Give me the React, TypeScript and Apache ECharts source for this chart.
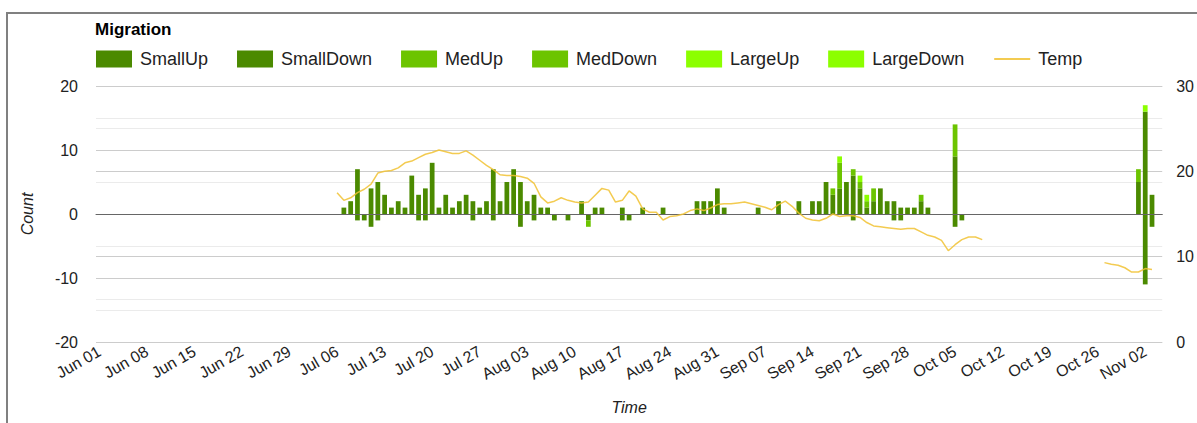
import React, { useEffect, useRef } from "react";
import * as echarts from "echarts";

// Daily categories Jun 01 .. Nov 04
const MONTHS = ["Jun", "Jul", "Aug", "Sep", "Oct", "Nov"];
const MONTH_LENGTHS = [30, 31, 31, 30, 31, 4];
const days: string[] = [];
MONTHS.forEach((m, i) => {
  for (let d = 1; d <= MONTH_LENGTHS[i]; d++) days.push(`${m} ${String(d).padStart(2, "0")}`);
});

const smallUp: [string, number][] = [
  ["Jul 07", 1], ["Jul 08", 2], ["Jul 09", 7], ["Jul 11", 4], ["Jul 12", 5], ["Jul 13", 3], ["Jul 14", 1],
  ["Jul 15", 2], ["Jul 16", 1], ["Jul 17", 6], ["Jul 18", 3], ["Jul 19", 4], ["Jul 20", 8], ["Jul 21", 1],
  ["Jul 22", 3], ["Jul 23", 1], ["Jul 24", 2], ["Jul 25", 3], ["Jul 26", 2], ["Jul 27", 1], ["Jul 28", 2],
  ["Jul 29", 7], ["Jul 30", 2], ["Jul 31", 5], ["Aug 01", 7], ["Aug 02", 5], ["Aug 03", 2], ["Aug 04", 3],
  ["Aug 05", 1], ["Aug 06", 1], ["Aug 11", 2], ["Aug 13", 1], ["Aug 14", 1], ["Aug 17", 1], ["Aug 20", 1],
  ["Aug 23", 1], ["Aug 28", 2], ["Aug 29", 2], ["Aug 30", 2], ["Aug 31", 4], ["Sep 01", 1], ["Sep 06", 1],
  ["Sep 09", 2], ["Sep 12", 2], ["Sep 14", 2], ["Sep 15", 2], ["Sep 16", 5], ["Sep 17", 3], ["Sep 18", 4],
  ["Sep 19", 5], ["Sep 20", 6], ["Sep 21", 4], ["Sep 22", 1], ["Sep 23", 2], ["Sep 24", 4], ["Sep 25", 2],
  ["Sep 26", 2], ["Sep 27", 1], ["Sep 28", 1], ["Sep 29", 1], ["Sep 30", 2], ["Oct 01", 1], ["Oct 05", 9],
  ["Nov 01", 5], ["Nov 02", 16], ["Nov 03", 3],
];
const smallDown: [string, number][] = [
  ["Jul 09", -1], ["Jul 10", -1], ["Jul 11", -2], ["Jul 12", -1], ["Jul 18", -1], ["Jul 19", -1],
  ["Jul 26", -1], ["Jul 29", -1], ["Aug 02", -2], ["Aug 04", -1], ["Aug 07", -1], ["Aug 09", -1],
  ["Aug 12", -1], ["Aug 17", -1], ["Aug 18", -1], ["Sep 20", -1], ["Sep 26", -1], ["Sep 27", -1],
  ["Oct 05", -2], ["Oct 06", -1], ["Nov 02", -11], ["Nov 03", -2],
];
const medUp: [string, number][] = [
  ["Sep 17", 1], ["Sep 18", 4], ["Sep 20", 1], ["Sep 21", 1], ["Sep 22", 1], ["Sep 23", 2],
  ["Sep 30", 1], ["Oct 05", 5], ["Nov 01", 2],
];
const medDown: [string, number][] = [["Aug 12", -1]];
const largeUp: [string, number][] = [["Sep 18", 1], ["Sep 21", 1], ["Sep 22", 1], ["Nov 02", 1]];
const largeDown: [string, number][] = [];

const tempStart1 = "Jul 06";
const temp1 = [
  17.5, 16.6, 16.9, 17.5, 17.9, 18.5, 19.8, 20.0, 20.1, 20.4, 21.0, 21.2, 21.6, 22.0, 22.2, 22.5, 22.3, 22.1,
  22.1, 22.4, 21.9, 21.3, 20.7, 20.2, 19.6, 19.5,
  19.5, 19.4, 19.2, 18.6, 17.0, 16.3, 16.5, 16.9, 16.6, 16.4, 16.3, 16.4, 17.2, 18.0, 17.8, 16.4, 16.6, 17.7,
  17.1, 15.6, 15.2, 15.2, 14.3, 14.7, 14.8, 15.0, 15.4, 15.6, 15.4, 15.7, 16.1,
  16.2, 16.2, 16.3, 16.4, 16.2, 16.0, 15.8, 15.5, 16.1, 16.5, 15.9, 15.1, 14.5, 14.3, 14.2, 14.5, 15.0, 14.7,
  14.8, 14.8, 14.6, 14.0, 13.6, 13.5, 13.4, 13.3, 13.2, 13.3, 13.3, 12.9,
  12.5, 12.3, 11.9, 10.7, 11.4, 12.0, 12.3, 12.3, 12.0,
];
const tempStart2 = "Oct 27";
const temp2 = [9.3, 9.1, 9.0, 8.7, 8.2, 8.2, 8.6, 8.5];

const leftTicks = { min: -20, max: 20, interval: 10 };
const rightTicks = { min: 0, max: 30, interval: 10 };

const FONT = "'Liberation Sans', Arial, sans-serif";
const DARK = "#4b8a00";
const MED = "#6cc400";
const LIGHT = "#8cff00";
const TEMP = "#f1c232";

function dense(pairs: [string, number][]) {
  const m = new Map(pairs);
  return days.map((d) => (m.has(d) ? m.get(d)! : "-"));
}
function denseTemp() {
  const out: (number | string)[] = days.map(() => "-");
  const s1 = days.indexOf(tempStart1);
  temp1.forEach((v, i) => (out[s1 + i] = v));
  const s2 = days.indexOf(tempStart2);
  temp2.forEach((v, i) => (out[s2 + i] = v));
  return out;
}

export default function App() {
  const ref = useRef<HTMLDivElement>(null);
  useEffect(() => {
    const chart = echarts.init(ref.current!, null, { renderer: "svg" });
    const bar = (name: string, data: [string, number][], color: string, extra: any = {}) => ({
      name,
      type: "bar",
      stack: "mig",
      barCategoryGap: "30%",
      data: dense(data),
      itemStyle: { color },
      ...extra,
    });
    chart.setOption({
      animation: false,
      textStyle: { fontFamily: FONT },
      title: {
        text: "Migration",
        left: 95,
        top: 21,
        padding: 0,
        textStyle: { fontSize: 17, fontWeight: "bold", color: "#000", fontFamily: FONT },
      },
      legend: {
        left: 96,
        top: 50,
        padding: 0,
        itemWidth: 36,
        itemHeight: 17,
        itemGap: 29,
        textStyle: { fontSize: 18, color: "#222", fontFamily: FONT, padding: [0, 0, 0, 3] },
        data: [
          { name: "SmallUp", icon: "rect" },
          { name: "SmallDown", icon: "rect" },
          { name: "MedUp", icon: "rect" },
          { name: "MedDown", icon: "rect" },
          { name: "LargeUp", icon: "rect" },
          { name: "LargeDown", icon: "rect" },
          { name: "Temp", itemStyle: { opacity: 0 } },
        ],
      },
      graphic: [
        {
          type: "rect",
          silent: true,
          shape: { x: 7, y: 13, width: 1300, height: 600 },
          style: { fill: "none", stroke: "#808080", lineWidth: 2 },
        },
      ],
      grid: { left: 96, right: 31, top: 86, bottom: 81, containLabel: false },
      xAxis: {
        type: "category",
        data: days,
        boundaryGap: true,
        axisLine: { lineStyle: { color: "#666", width: 1 } },
        axisTick: { show: false },
        axisLabel: { interval: 6, rotate: 30, fontSize: 16, color: "#222", margin: 8, fontFamily: FONT },
        name: "Time",
        nameLocation: "middle",
        nameGap: 57,
        nameTextStyle: { fontStyle: "italic", fontSize: 16, color: "#222", fontFamily: FONT },
      },
      yAxis: [
        {
          type: "value",
          position: "left",
          ...leftTicks,
          axisLine: { show: false },
          axisTick: { show: false },
          axisLabel: { fontSize: 16, color: "#222", margin: 18, fontFamily: FONT },
          splitLine: { lineStyle: { color: "#cccccc" } },
          minorTick: { show: false, splitNumber: 2 },
          minorSplitLine: { show: true, lineStyle: { color: "#ebebeb" } },
          name: "Count",
          nameLocation: "middle",
          nameGap: 61,
          nameRotate: 90,
          nameTextStyle: { fontStyle: "italic", fontSize: 16, color: "#222", fontFamily: FONT },
        },
        {
          type: "value",
          position: "right",
          ...rightTicks,
          axisLine: { show: false },
          axisTick: { show: false },
          axisLabel: { fontSize: 16, color: "#222", margin: 14, fontFamily: FONT },
          splitLine: { lineStyle: { color: "#cccccc" } },
          minorTick: { show: false, splitNumber: 2 },
          minorSplitLine: { show: true, lineStyle: { color: "#ebebeb" } },
        },
      ],
      series: [
        bar("SmallUp", smallUp, DARK, {
          markLine: {
            silent: true,
            symbol: "none",
            label: { show: false },
            lineStyle: { color: "#666", width: 1, type: "solid" },
            data: [{ yAxis: 0 }],
          },
        }),
        bar("SmallDown", smallDown, DARK),
        bar("MedUp", medUp, MED),
        bar("MedDown", medDown, MED),
        bar("LargeUp", largeUp, LIGHT),
        bar("LargeDown", largeDown, LIGHT),
        {
          name: "Temp",
          type: "line",
          yAxisIndex: 1,
          data: denseTemp(),
          symbol: "none",
          showSymbol: false,
          connectNulls: false,
          itemStyle: { color: TEMP },
          lineStyle: { color: TEMP, width: 1.5, opacity: 0.85 },
          z: 5,
        },
      ],
    });
    return () => chart.dispose();
  }, []);
  return (
    <div
      ref={ref}
      style={{ position: "fixed", left: 0, top: 0, width: 1197, height: 423, background: "#fff" }}
    />
  );
}
